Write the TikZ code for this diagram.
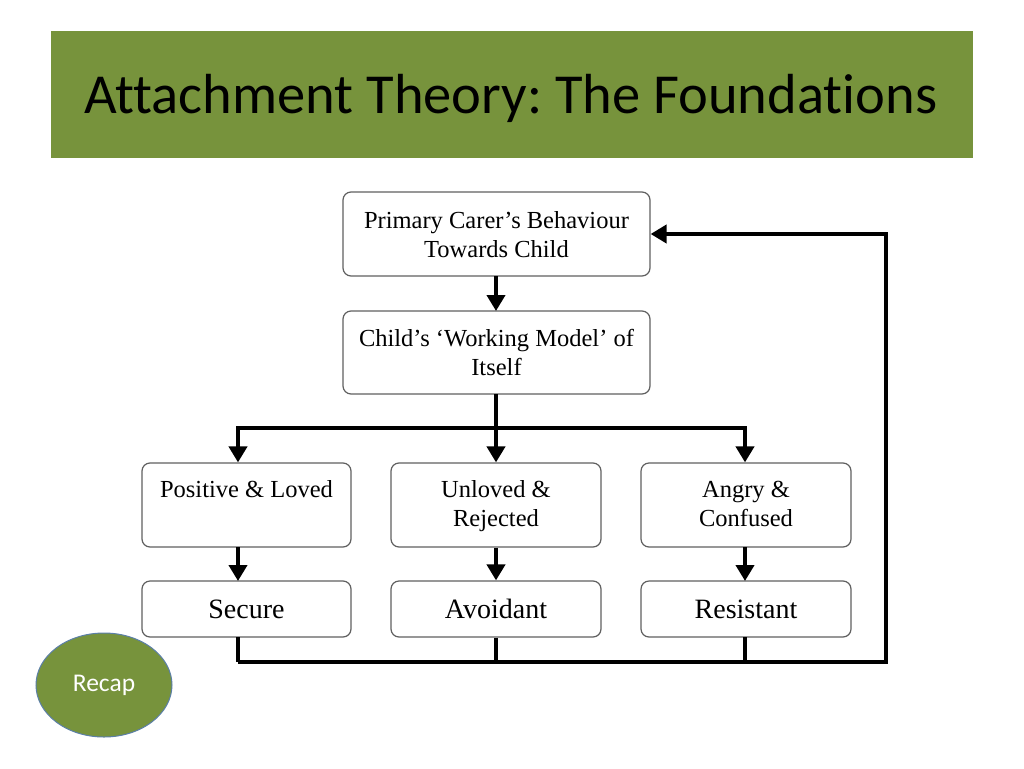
\documentclass[tikz,border=0pt]{standalone}
\usepackage{fontspec}
\setmainfont{Liberation Serif}
\newfontfamily\carlito[Ligatures=NoCommon]{Carlito}
\usetikzlibrary{arrows.meta,shapes.geometric}
\definecolor{olive}{HTML}{77933C}
\definecolor{boxline}{HTML}{606060}
\definecolor{recapedge}{HTML}{5B7FA8}
\tikzset{
  box/.style={draw=boxline, line width=1.2pt, rounded corners=8pt, fill=white, inner sep=0pt},
  boxtext/.style={font=\fontsize{24.5}{29}\selectfont, align=center, inner sep=0pt},
  bigtext/.style={font=\fontsize{28}{30}\selectfont, inner sep=0pt},
  conn/.style={line width=4.2pt, draw=black},
  arr/.style={conn, -{Triangle[width=18pt,length=16pt]}},
}
\begin{document}
\frenchspacing
\begin{tikzpicture}[x=1pt,y=-1pt]
\useasboundingbox (0,0) rectangle (1024,768);
\fill[white] (0,0) rectangle (1024,768);
% title bar
\node[fill=olive, minimum width=922pt, minimum height=127pt, inner sep=0pt, anchor=north west] (bar) at (51,31) {};
\node[font=\carlito\fontsize{56.5}{60}\selectfont, anchor=west, inner sep=0pt] (title) at (84,98) {Attachment Theory: The Foundations};

% boxes
\node[box, minimum width=307pt, minimum height=84pt] (carer) at (496.5,234) {};
\node[boxtext] (carert) at (496.5,235) {Primary Carer’s Behaviour\\Towards Child};
\node[box, minimum width=307pt, minimum height=83pt] (model) at (496.5,352.5) {};
\node[boxtext] (modelt) at (496.5,352) {Child’s ‘Working Model’ of\\Itself};

\node[box, minimum width=209pt, minimum height=84pt] (pos) at (246.5,505) {};
\node[box, minimum width=210pt, minimum height=84pt] (unl) at (496,505) {};
\node[box, minimum width=210pt, minimum height=84pt] (ang) at (746,505) {};
\node[boxtext, anchor=north] (post) at (246.5,480.5) {Positive \& Loved};
\node[boxtext, anchor=north] (unlt) at (496,480.5) {Unloved \&\\Rejected};
\node[boxtext, anchor=north] (angt) at (746,480.5) {Angry \&\\Confused};

\node[box, minimum width=209pt, minimum height=56pt] (sec) at (246.5,609) {};
\node[box, minimum width=210pt, minimum height=56pt] (avo) at (496,609) {};
\node[box, minimum width=210pt, minimum height=56pt] (res) at (746,609) {};
\node[bigtext] (sect) at (246.5,609) {Secure};
\node[bigtext] (avot) at (496,609) {Avoidant};
\node[bigtext] (rest) at (746,609) {Resistant};

% connectors
\coordinate (split) at (496,428);
\coordinate (sl) at (238,428);
\coordinate (sr) at (745,428);
\coordinate (bl) at (238,662);
\coordinate (bm) at (496,662);
\coordinate (br) at (745,662);
\coordinate (corner) at (886,662);
\coordinate (ctop) at (886,234);

\draw[arr] (496,276) -- (496,311);
\draw[conn] (496,394) -- (split);
\draw[conn, line cap=rect] (sl) -- (sr);
\draw[arr] (sl) -- (sl |- pos.north);
\draw[arr] (split) -- (unl.north);
\draw[arr] (sr) -- (sr |- ang.north);
\draw[arr] (238,547) -- (238,581);
\draw[arr] (unl.south) -- (avo.north);
\draw[arr] (745,547) -- (745,581);
\draw[conn] (238,637) -- (bl);
\draw[conn] (avo.south) -- (bm);
\draw[conn] (745,637) -- (br);
\draw[arr, line join=miter] (bl) -- (corner) -- (ctop) -- (carer.east);

% recap
\node[ellipse, draw=recapedge, line width=1pt, fill=olive, minimum width=136pt, minimum height=104pt, inner sep=0pt, text=white, font=\carlito\fontsize{25.5}{28}\selectfont] (recap) at (104,685) {Recap};
\end{tikzpicture}
\end{document}
